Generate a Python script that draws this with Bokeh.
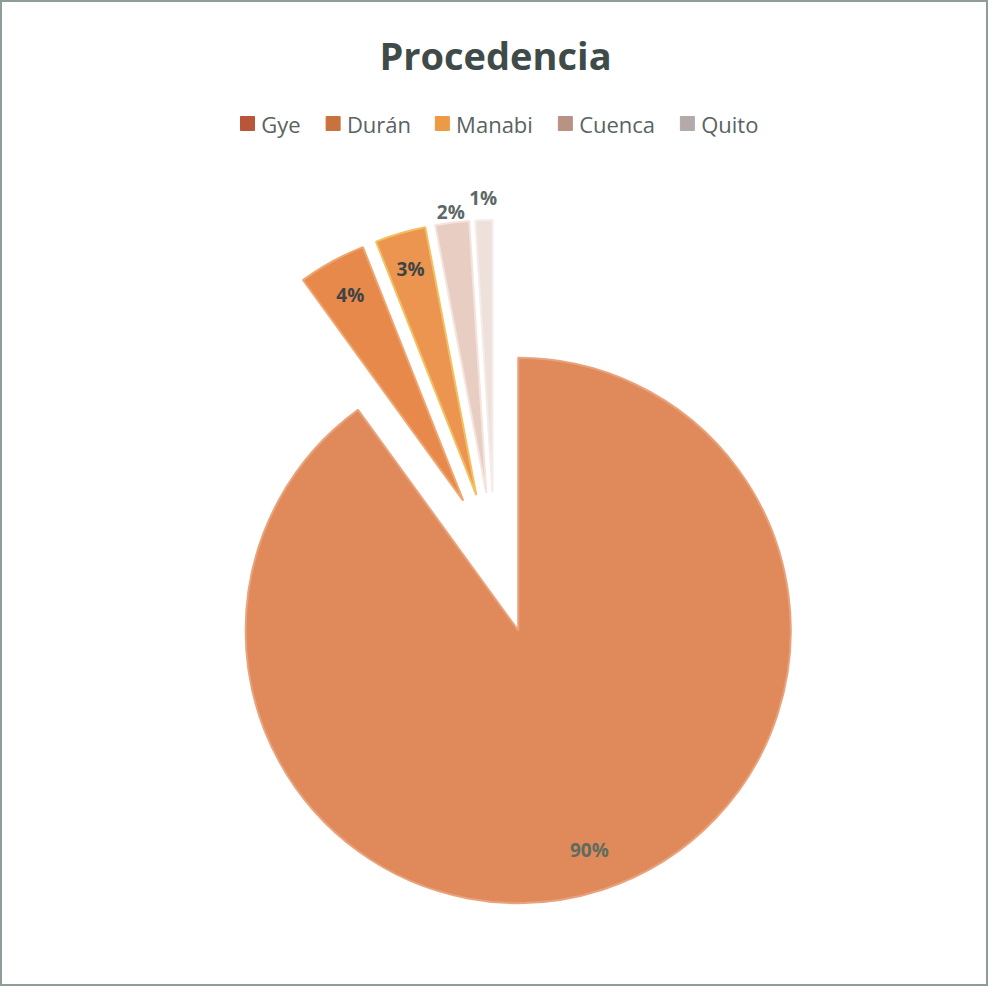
import math
from bokeh.plotting import figure
from bokeh.models import Range1d, ColumnDataSource
from bokeh.core.properties import value
from bokeh.embed import file_html
from bokeh.resources import INLINE

# ---- data ----
categories = ["Gye", "Durán", "Manabi", "Cuenca", "Quito"]
values = [90, 4, 3, 2, 1]
labels = ["90%", "4%", "3%", "2%", "1%"]
title_text = "Procedencia"

# ---- style ----
slice_colors = ["#E08A5B", "#E8894C", "#EC9551", "#E8CEC2", "#EEE1DC"]
edge_colors = ["#E9A37C", "#F0A46E", "#F2C060", "#F4E4DC", "#F4ECE8"]
legend_colors = ["#B9563A", "#C8733E", "#EC9A45", "#B89383", "#B4AAAA"]
label_colors = ["#5E6B5E", "#3E4444", "#3E4444", "#5C6868", "#5C6868"]
label_r = [0.845, 0.86, 0.865, 1.04, 1.08]
explode = [78, 66, 66, 66, 66]

W, H = 988, 986
REF_W, REF_H = 1004, 1002


def Y(py):
    return REF_H - py


p = figure(width=W, height=H, output_backend="svg", toolbar_location=None,
           x_range=Range1d(0, REF_W), y_range=Range1d(0, REF_H),
           min_border=0, background_fill_color="white", border_fill_color="white")
p.axis.visible = False
p.grid.visible = False
p.outline_line_color = "#8E9C9B"
p.outline_line_width = 3

# pie geometry (reference pixels)
cx, cy = 502.0, 566.0
R = 277.0

total = float(sum(values))
starts, ends, xs, ys, lx, ly = [], [], [], [], [], []
acc = 0.0
for i, v in enumerate(values):
    a1 = acc / total * 2 * math.pi
    acc += v
    a2 = acc / total * 2 * math.pi
    b = (a1 + a2) / 2
    ox = cx + explode[i] * math.sin(b)
    oy = cy - explode[i] * math.cos(b)
    xs.append(ox)
    ys.append(Y(oy))
    starts.append(math.pi / 2 - a1)
    ends.append(math.pi / 2 - a2)
    lx.append(ox + label_r[i] * R * math.sin(b))
    ly.append(Y(oy - label_r[i] * R * math.cos(b)))

src = ColumnDataSource(dict(x=xs, y=ys, start=starts, end=ends,
                            color=slice_colors, edge=edge_colors,
                            lx=lx, ly=ly, lab=labels, lc=label_colors,
                            cat=categories))

p.wedge(x="x", y="y", radius=R, start_angle="start", end_angle="end",
        direction="clock", fill_color="color", line_color="edge",
        line_width=2, source=src)

p.text(x="lx", y="ly", text="lab", text_color="lc", source=src,
       text_font=value("Open Sans"), text_font_size="19px",
       text_font_style="bold", text_align="center", text_baseline="middle")

# title
p.text(x=[503], y=[Y(55)], text=[title_text], text_font=value("Open Sans"),
       text_font_size="38px", text_font_style="bold", text_color="#3F4B48",
       text_align="center", text_baseline="middle")

# legend
leg_marker_x = [251, 338, 449, 574, 698]
leg_y = Y(125)
p.scatter(x=leg_marker_x, y=[leg_y] * 5, marker="square", size=14,
          fill_color=legend_colors, line_color=legend_colors)
p.text(x=[m + 14 for m in leg_marker_x], y=[leg_y] * 5, text=categories,
       text_font=value("Open Sans"), text_font_size="22px",
       text_color="#5A6262", text_align="left", text_baseline="middle")

open("out.html", "w").write(file_html(p, INLINE))
